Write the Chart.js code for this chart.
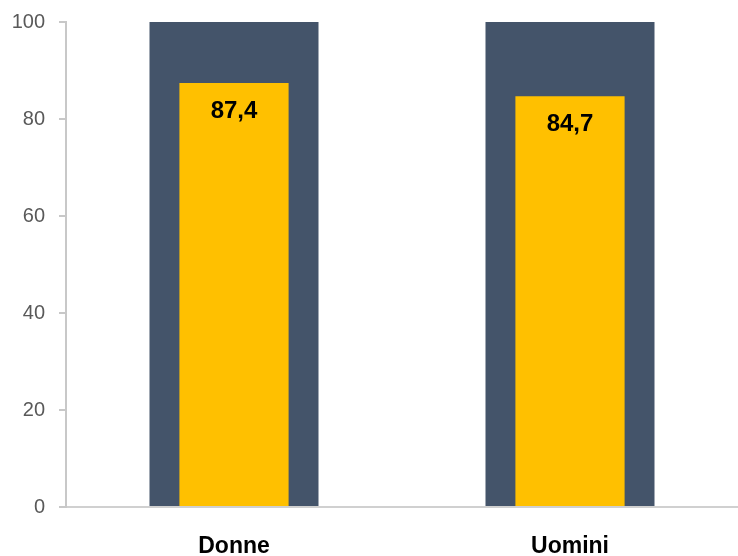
<!DOCTYPE html>
<html>
<head>
<meta charset="utf-8">
<script src="https://cdn.jsdelivr.net/npm/chart.js@4/dist/chart.umd.min.js"></script>
<style>
  html, body { margin: 0; padding: 0; background: #fff; }
  #wrap { width: 738px; height: 556px; }
</style>
</head>
<body>
<div id="wrap"><canvas id="chart"></canvas></div>
<script>
/* ========= Data ========= */
const categories = ['Donne', 'Uomini'];
const values     = [87.4, 84.7];
const fullScale  = [100, 100];
const yTicks     = [0, 20, 40, 60, 80, 100];

/* ========= Value labels inside the yellow bars ========= */
const valueLabels = {
  id: 'valueLabels',
  afterDatasetsDraw(chart) {
    const ctx = chart.ctx;
    const meta = chart.getDatasetMeta(0);
    ctx.save();
    ctx.font = 'bold 24px "Liberation Sans", Arial, sans-serif';
    ctx.fillStyle = '#000';
    ctx.textAlign = 'center';
    ctx.textBaseline = 'middle';
    meta.data.forEach((bar, i) => {
      const txt = values[i].toFixed(1).replace('.', ',');
      ctx.fillText(txt, bar.x, bar.y + 28);
    });
    ctx.restore();
  }
};

new Chart(document.getElementById('chart'), {
  type: 'bar',
  data: {
    labels: categories,
    datasets: [
      {
        data: values,
        backgroundColor: '#FFC000',
        categoryPercentage: 1,
        barPercentage: 0.325,
        grouped: false
      },
      {
        data: fullScale,
        backgroundColor: '#44546A',
        categoryPercentage: 1,
        barPercentage: 0.503,
        grouped: false
      }
    ]
  },
  options: {
    responsive: true,
    maintainAspectRatio: false,
    animation: false,
    layout: { padding: { top: 22, right: 0, left: 0, bottom: 0 } },
    plugins: { legend: { display: false }, tooltip: { enabled: false } },
    scales: {
      x: {
        afterFit: (axis) => { axis.height = 49; },
        grid: { display: false },
        border: { color: '#D0D0D0', width: 2 },
        ticks: {
          color: '#000',
          padding: 18,
          font: { family: '"Liberation Sans", Arial, sans-serif', size: 23, weight: 'bold' }
        }
      },
      y: {
        min: 0,
        max: 100,
        afterFit: (axis) => {
          axis.width = 66;
          axis.paddingTop = 0;
          axis.paddingBottom = 0;
        },
        afterBuildTicks: (axis) => { axis.ticks = yTicks.map(v => ({ value: v })); },
        grid: { drawOnChartArea: false, drawTicks: true, tickLength: 7, color: '#C8C8C8', lineWidth: 2 },
        border: { color: '#C8C8C8', width: 2 },
        ticks: {
          color: '#595959',
          padding: 14,
          font: { family: '"Liberation Sans", Arial, sans-serif', size: 20 }
        }
      }
    }
  },
  plugins: [valueLabels]
});
</script>
</body>
</html>
